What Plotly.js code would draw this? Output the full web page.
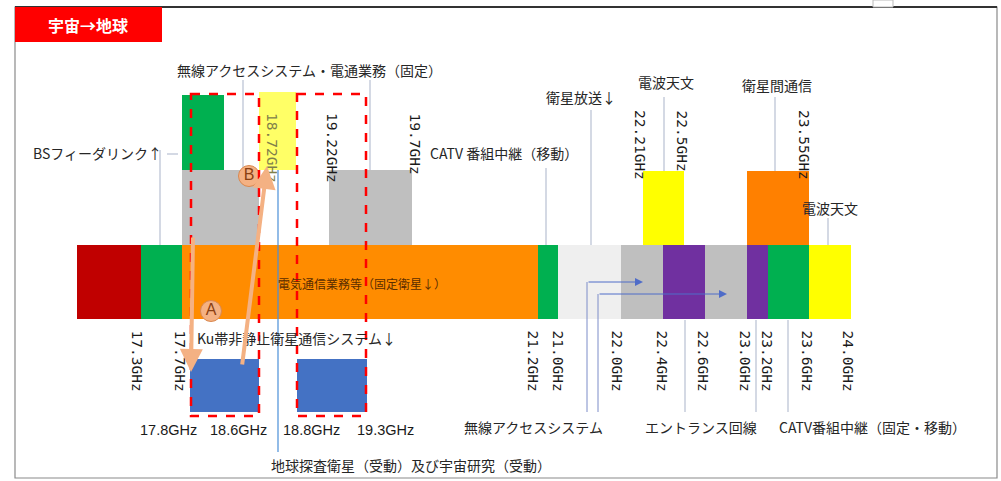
<!DOCTYPE html>
<html><head><meta charset="utf-8">
<script src="https://cdn.plot.ly/plotly-3.0.1.min.js"></script>
<style>html,body{margin:0;padding:0;background:#fff}#chart{width:1001px;height:481px}</style>
</head><body><div id="chart"></div>
<script>
// ---------- DATA (schematic diagram units) ----------
// Frequency band blocks
const blockStart  = [77,141,182,538,558,621,663,705,747,768,809, 182,329,643,747, 182,259, 190,297];
const blockEnd    = [141,182,538,558,621,663,705,747,768,809,851, 259,412,684,809, 224,296, 259,367];
const blockTop    = [245,245,245,245,245,245,245,245,245,245,245, 170,170,171,171, 95,92, 359,359];
const blockBottom = [319,319,319,319,319,319,319,319,319,319,319, 245,245,245,245, 170,170, 412,412];
const blockColor  = ['#c00000','#00b050','#ff8c00','#00b050','#efefef','#bfbfbf','#7030a0','#bfbfbf','#7030a0','#00b050','#ffff00',
                     '#bfbfbf','#bfbfbf','#ffff00','#ff8000', '#00b050','#ffff66', '#4472c4','#4472c4'];

// Frequency labels (rotated)
const freqLabels = ['17.3GHz','17.7GHz','21.2GHz','21.0GHz','22.0GHz','22.4GHz','22.6GHz','23.0GHz','23.2GHz','23.6GHz','24.0GHz',
                    '18.72GHz','19.22GHz','19.7GHz','22.21GHz','22.5GHz','23.55GHz'];
const freqX   = [137,180,533,558,617,662,703,745,767,807,848, 272,332,415,640,682,804];
const freqTop = [329,329,329,329,329,329,329,329,329,329,329, 112,112,112,109,109,109];

// Horizontal frequency labels
const hFreqLabels = ['17.8GHz','18.6GHz','18.8GHz','19.3GHz'];
const hFreqX = [168,238,311,385];
const hFreqY = 430;

// Service labels
const svcText = ['無線アクセスシステム・電通業務（固定）','BSフィーダリンク↑','CATV 番組中継（移動）','衛星放送↓','電波天文','衛星間通信','電波天文',
                 'Ku帯非静止衛星通信システム↓','地球探査衛星（受動）及び宇宙研究（受動）','無線アクセスシステム','エントランス回線','CATV番組中継（固定・移動）'];
const svcX = [309,164,428,544,666,777,830,195,411,533,701,872];
const svcY = [70,153,153,97,82,85,208,338,465,427,427,427];
const svcAnchor = ['center','right','left','left','center','center','center','left','center','center','center','center'];

// Leader lines (segments)
const leadX0 = [160,167,243,370,546,591,664,775,828,685,756,788];
const leadY0 = [150,154,80,80,168,110,97,97,218,320,320,320];
const leadX1 = [160,178,243,370,546,591,664,775,828,685,756,788];
const leadY1 = [245,154,170,170,245,245,171,171,245,412,412,412];
// Access system leader (vertical parts)
const accX  = [587,598];
const accY0 = [282,294];
const accY1 = [412,412];
const accHeadX = [643,727];
// Earth exploration line
const eesX = 278, eesY0 = 170, eesY1 = 452;

// Dashed regions
const dashX0 = [191,297], dashX1 = [259,366], dashY0 = [94,94], dashY1 = [416,416];

// Markers A / B and arrows
const abText = ['A','B'];
const abX = [211,249], abY = [311,176];
const arrTailX = [193,242], arrTailY = [236,366];
const arrHeadX = [191,267], arrHeadY = [372,166];

// ---------- BUILD ----------
const FONT = '"Noto Sans CJK JP", "Noto Sans", sans-serif';
const MONO = '"DejaVu Sans Mono", monospace';

const bars = {
  type:'bar', orientation:'v',
  x: blockStart.map((s,i)=>(s+blockEnd[i])/2),
  width: blockStart.map((s,i)=>blockEnd[i]-s),
  base: blockTop,
  y: blockTop.map((t,i)=>blockBottom[i]-t),
  marker:{color:blockColor, line:{width:0}},
  hoverinfo:'skip'
};

function segs(x0,y0,x1,y1){
  const X=[],Y=[];
  x0.forEach((v,i)=>{X.push(v,x1[i],null);Y.push(y0[i],y1[i],null);});
  return {X,Y};
}
const ls = segs(leadX0,leadY0,leadX1,leadY1);
const leaders = {type:'scatter',mode:'lines',x:ls.X,y:ls.Y,line:{color:'#a9b3c9',width:1},hoverinfo:'skip'};
const as = segs(accX,accY0,accX,accY1);
const accLines = {type:'scatter',mode:'lines',x:as.X,y:as.Y,line:{color:'#7d8cc8',width:1},hoverinfo:'skip'};
const ees = {type:'scatter',mode:'lines',x:[eesX,eesX],y:[eesY0,eesY1],line:{color:'#4a8fd8',width:1.2},hoverinfo:'skip'};

const ab = {type:'scatter',mode:'markers+text',x:abX,y:abY,text:abText,textposition:'middle center',
  marker:{size:21,color:'#f4b183',line:{color:'#d9884f',width:1}},
  textfont:{family:'"Liberation Sans", sans-serif',size:16,color:'#8a3f12'},hoverinfo:'skip'};

const annotations = [];
freqLabels.forEach((t,i)=>{
  annotations.push({x:freqX[i],y:freqTop[i],xref:'x',yref:'y',text:t,showarrow:false,textangle:90,
    xanchor:'center',yanchor:'top',borderpad:0,
    font:{family:MONO,size:14.5,color: i===11 ? '#80804a' : '#1a1a1a'}});
});
hFreqLabels.forEach((t,i)=>{
  annotations.push({x:hFreqX[i],y:hFreqY,xref:'x',yref:'y',text:t,showarrow:false,
    font:{family:'"Liberation Sans", sans-serif',size:14.5,color:'#1a1a1a'}});
});
svcText.forEach((t,i)=>{
  annotations.push({x:svcX[i],y:svcY[i],xref:'x',yref:'y',text:t,showarrow:false,xanchor:svcAnchor[i],
    font:{family:FONT,size:14,color:'#262626'}});
});
annotations.push({x:362,y:283,xref:'x',yref:'y',text:'電気通信業務等（固定衛星↓）',showarrow:false,
  font:{family:FONT,size:12,color:'#5a2d00'}});
annotations.push({x:88,y:25,xref:'x',yref:'y',text:'<b>宇宙→地球</b>',showarrow:false,
  font:{family:FONT,size:16,color:'#ffffff'}});
// access-system arrows
accX.forEach((v,i)=>{
  annotations.push({x:accHeadX[i],y:accY0[i],ax:v,ay:accY0[i],xref:'x',yref:'y',axref:'x',ayref:'y',
    text:'',showarrow:true,arrowhead:2,arrowsize:1.6,arrowwidth:1,arrowcolor:'#4f6cc8',standoff:0});
});
// A / B arrows
arrTailX.forEach((v,i)=>{
  annotations.push({x:arrHeadX[i],y:arrHeadY[i],ax:v,ay:arrTailY[i],xref:'x',yref:'y',axref:'x',ayref:'y',
    text:'',showarrow:true,arrowhead:2,arrowsize:1.15,arrowwidth:4,arrowcolor:'#f4b183',standoff:0});
});

const shapes = [];
// frame
shapes.push({type:'rect',xref:'x',yref:'y',x0:15,y0:7,x1:997,y1:478,line:{color:'#8a8a8a',width:1.2},fillcolor:'rgba(0,0,0,0)',layer:'below'});
shapes.push({type:'line',xref:'x',yref:'y',x0:15,y0:7,x1:997,y1:7,line:{color:'#333',width:2},layer:'below'});
shapes.push({type:'rect',xref:'x',yref:'y',x0:873,y0:0,x1:893,y1:7,line:{color:'#bbb',width:1},fillcolor:'#fff',layer:'below'});
// title box
shapes.push({type:'rect',xref:'x',yref:'y',x0:15,y0:7,x1:162,y1:42,line:{width:0},fillcolor:'#ff0000',layer:'below'});
// dashed regions
dashX0.forEach((v,i)=>{
  shapes.push({type:'rect',xref:'x',yref:'y',x0:v,x1:dashX1[i],y0:dashY0[i],y1:dashY1[i],
    line:{color:'#ff0000',width:2.5,dash:'dash'},fillcolor:'rgba(0,0,0,0)',layer:'above'});
});

const layout = {
  width:1001,height:481,margin:{l:0,r:0,t:0,b:0,pad:0},
  paper_bgcolor:'#ffffff',plot_bgcolor:'#ffffff',showlegend:false,barmode:'overlay',
  xaxis:{range:[0,1001],visible:false,fixedrange:true},
  yaxis:{range:[481,0],visible:false,fixedrange:true},
  annotations, shapes
};
Plotly.newPlot('chart',[bars,leaders,accLines,ees,ab],layout,{staticPlot:true,displayModeBar:false});
</script></body></html>
